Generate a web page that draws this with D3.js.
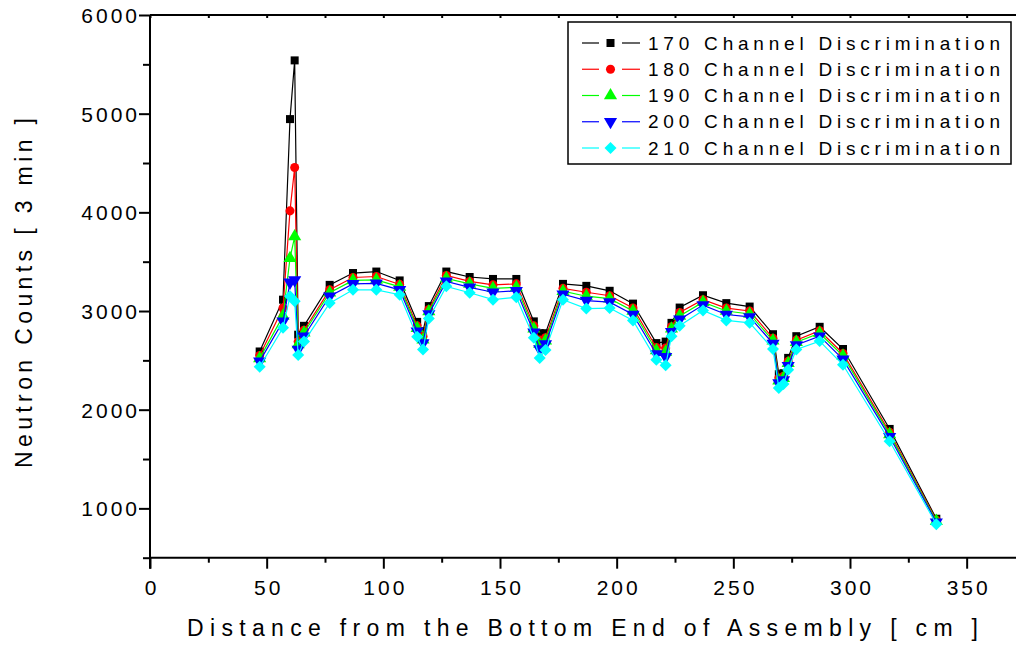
<!DOCTYPE html>
<html>
<head>
<meta charset="utf-8">
<script src="https://cdn.jsdelivr.net/npm/d3@7/dist/d3.min.js"></script>
<style>
  html, body { margin: 0; padding: 0; background: #fff; }
  svg { display: block; font-family: "Liberation Sans", Arial, sans-serif; }
</style>
</head>
<body>
<svg id="chart" width="1016" height="645"></svg>
<script>
// ---- data ----
const positions = [47, 57, 60, 62, 63.5, 66, 77, 87, 97, 107, 114.5, 117, 119.5, 127, 137, 147, 157, 164.5, 167, 169.5,
  177, 187, 197, 207, 217, 221, 223.5, 227, 237, 247, 257, 267, 269.5, 271.5, 273.5, 277, 287, 297, 317, 337];

const ch170 = [2590, 3115, 4945, 5540, 2760, 2850, 3265, 3385, 3400, 3310, 2890, 2795, 3050, 3400, 3345, 3325, 3325, 2895, 2775, 2775,
  3275, 3255, 3205, 3075, 2675, 2690, 2880, 3035, 3160, 3080, 3045, 2765, 2360, 2370, 2525, 2745, 2840, 2615, 1805, 895];
const ch180 = [2550, 3030, 4015, 4455, 2690, 2805, 3215, 3340, 3350, 3270, 2850, 2745, 3015, 3360, 3300, 3265, 3275, 2850, 2705, 2730,
  3230, 3190, 3155, 3030, 2630, 2625, 2840, 2985, 3115, 3030, 3000, 2725, 2320, 2340, 2490, 2705, 2800, 2570, 1770, 880];
const ch190 = [2520, 2950, 3535, 3755, 2660, 2780, 3185, 3310, 3315, 3245, 2825, 2710, 2995, 3330, 3275, 3230, 3240, 2820, 2665, 2700,
  3200, 3150, 3125, 3000, 2600, 2585, 2820, 2950, 3090, 3000, 2970, 2700, 2295, 2320, 2470, 2685, 2775, 2545, 1750, 870];
const ch200 = [2490, 2895, 3290, 3315, 2610, 2745, 3150, 3275, 3280, 3215, 2795, 2675, 2970, 3300, 3240, 3190, 3205, 2785, 2615, 2665,
  3170, 3105, 3090, 2965, 2565, 2535, 2790, 2915, 3060, 2965, 2940, 2670, 2270, 2300, 2445, 2655, 2745, 2510, 1725, 860];
const ch210 = [2435, 2830, 3150, 3100, 2555, 2690, 3080, 3215, 3215, 3165, 2740, 2610, 2925, 3250, 3185, 3115, 3140, 2730, 2525, 2605,
  3115, 3025, 3030, 2905, 2505, 2450, 2745, 2850, 3005, 2905, 2880, 2615, 2220, 2260, 2405, 2610, 2695, 2455, 1680, 840];

const seriesNames = ["170 Channel Discrimination", "180 Channel Discrimination", "190 Channel Discrimination",
  "200 Channel Discrimination", "210 Channel Discrimination"];
const seriesValues = [ch170, ch180, ch190, ch200, ch210];
const seriesColors = ["#000000", "#ff0000", "#00ff00", "#0000ff", "#00ffff"];
const seriesSymbols = ["square", "circle", "triangleUp", "triangleDown", "diamond"];

const xMajorTicks = [0, 50, 100, 150, 200, 250, 300, 350];
const xMinorTicks = [25, 75, 125, 175, 225, 275, 325, 375];
const yMajorTicks = [1000, 2000, 3000, 4000, 5000, 6000];
const yMinorTicks = [500, 1500, 2500, 3500, 4500, 5500];

const xTitle = "Distance from the Bottom End of  Assembly  [ cm ]";
const yTitle = "Neutron Counts [ 3 min ]";

// ---- layout ----
const svg = d3.select("#chart");
const x = d3.scaleLinear().domain([0, 372]).range([150, 150 + 372 * 2.3333]);
const y = d3.scaleLinear().domain([500, 6000]).range([557.7, 15]);
const xLeft = x(0), yBottom = y(500), yTop = y(6000);

const triDown = {
  draw(ctx, size) {
    const s = Math.sqrt(size / (Math.sqrt(3) / 4));
    const h = s * Math.sqrt(3) / 2;
    ctx.moveTo(-s / 2, -h / 3);
    ctx.lineTo(s / 2, -h / 3);
    ctx.lineTo(0, 2 * h / 3);
    ctx.closePath();
  }
};
const squareDiamond = {
  draw(ctx, size) {
    const r = Math.sqrt(size / 2);
    ctx.moveTo(0, -r);
    ctx.lineTo(r, 0);
    ctx.lineTo(0, r);
    ctx.lineTo(-r, 0);
    ctx.closePath();
  }
};
const symbolTypes = {
  square: d3.symbolSquare, circle: d3.symbolCircle, triangleUp: d3.symbolTriangle,
  triangleDown: triDown, diamond: squareDiamond
};
const symbolSizes = [64, 64, 75, 75, 72];
function symPath(i) {
  return d3.symbol().type(symbolTypes[seriesSymbols[i]]).size(symbolSizes[i])();
}

// ---- axes ----
const axisStyle = g => {
  g.selectAll(".domain").attr("stroke", "#000").attr("stroke-width", 2);
  g.selectAll(".tick line").attr("stroke", "#000").attr("stroke-width", 2);
};

svg.append("line").attr("x1", xLeft).attr("x2", 1016).attr("y1", yTop).attr("y2", yTop)
  .attr("stroke", "#000").attr("stroke-width", 2);
const topTicks = svg.append("g").attr("transform", `translate(0,${yTop})`)
  .call(d3.axisTop(x).tickValues(xMajorTicks.concat(xMinorTicks)).tickSize(-3).tickFormat(""));
topTicks.select(".domain").remove();
topTicks.selectAll(".tick line").attr("stroke", "#000").attr("stroke-width", 2);

const xAxisMinor = svg.append("g").attr("transform", `translate(0,${yBottom})`)
  .call(d3.axisBottom(x).tickValues(xMinorTicks).tickSize(5).tickFormat("").tickSizeOuter(0));
xAxisMinor.select(".domain").attr("d", `M${xLeft},0H1016`);
axisStyle(xAxisMinor);

const xAxis = svg.append("g").attr("transform", `translate(0,${yBottom})`)
  .call(d3.axisBottom(x).tickValues(xMajorTicks).tickSize(11).tickFormat(d3.format("d")).tickSizeOuter(0));
xAxis.select(".domain").remove();
axisStyle(xAxis);
xAxis.selectAll(".tick text")
  .attr("y", 30).attr("dy", "0.35em").attr("dx", 1.5)
  .attr("fill", "#000").attr("font-size", 21).attr("letter-spacing", 3)
  .attr("font-family", "Liberation Sans, Arial, sans-serif");

const yAxisMinor = svg.append("g").attr("transform", `translate(${xLeft},0)`)
  .call(d3.axisLeft(y).tickValues(yMinorTicks).tickSize(7).tickFormat("").tickSizeOuter(0));
yAxisMinor.select(".domain").attr("d", `M0,${yBottom + 11}V${yTop}`);
axisStyle(yAxisMinor);

const yAxis = svg.append("g").attr("transform", `translate(${xLeft},0)`)
  .call(d3.axisLeft(y).tickValues(yMajorTicks).tickSize(11).tickFormat(d3.format("d")).tickSizeOuter(0));
yAxis.select(".domain").remove();
axisStyle(yAxis);
yAxis.selectAll(".tick text")
  .attr("x", -10).attr("dy", "0.35em")
  .attr("fill", "#000").attr("font-size", 21).attr("letter-spacing", 3)
  .attr("font-family", "Liberation Sans, Arial, sans-serif");

svg.append("text")
  .attr("x", 187).attr("y", 628).attr("dy", "0.35em")
  .attr("font-size", 23).attr("fill", "#000")
  .attr("textLength", 791).attr("lengthAdjust", "spacing")
  .text(xTitle);

svg.append("text")
  .attr("transform", `translate(24,468) rotate(-90)`)
  .attr("dy", "0.35em")
  .attr("font-size", 23).attr("fill", "#000")
  .attr("textLength", 350).attr("lengthAdjust", "spacing")
  .text(yTitle);

// ---- series ----
const line = d3.line().x(d => x(d[0])).y(d => y(d[1]));
seriesValues.forEach((vals, i) => {
  const pts = positions.map((p, k) => [p, vals[k]]);
  const g = svg.append("g");
  g.append("path").datum(pts).attr("d", line)
    .attr("fill", "none").attr("stroke", seriesColors[i]).attr("stroke-width", 1.2);
  g.selectAll("path.m").data(pts).enter().append("path").attr("class", "m")
    .attr("d", symPath(i))
    .attr("transform", d => `translate(${x(d[0])},${y(d[1])})`)
    .attr("fill", seriesColors[i]);
});

// ---- legend ----
const lg = svg.append("g");
lg.append("rect").attr("x", 568).attr("y", 22).attr("width", 443).attr("height", 142)
  .attr("fill", "#fff").attr("stroke", "#000").attr("stroke-width", 1.5);
const rowY = d3.scaleLinear().domain([0, 4]).range([43, 148]);
seriesNames.forEach((name, i) => {
  const yy = rowY(i);
  lg.append("line").attr("x1", 582).attr("x2", 599).attr("y1", yy).attr("y2", yy)
    .attr("stroke", seriesColors[i]).attr("stroke-width", 1.2);
  lg.append("line").attr("x1", 622).attr("x2", 640).attr("y1", yy).attr("y2", yy)
    .attr("stroke", seriesColors[i]).attr("stroke-width", 1.2);
  lg.append("path").attr("d", symPath(i)).attr("transform", `translate(610.5,${yy})`)
    .attr("fill", seriesColors[i]);
  lg.append("text").attr("x", 648).attr("y", yy).attr("dy", "0.35em")
    .attr("font-size", 19).attr("fill", "#000")
    .attr("textLength", 352).attr("lengthAdjust", "spacing")
    .text(name);
});
</script>
</body>
</html>
